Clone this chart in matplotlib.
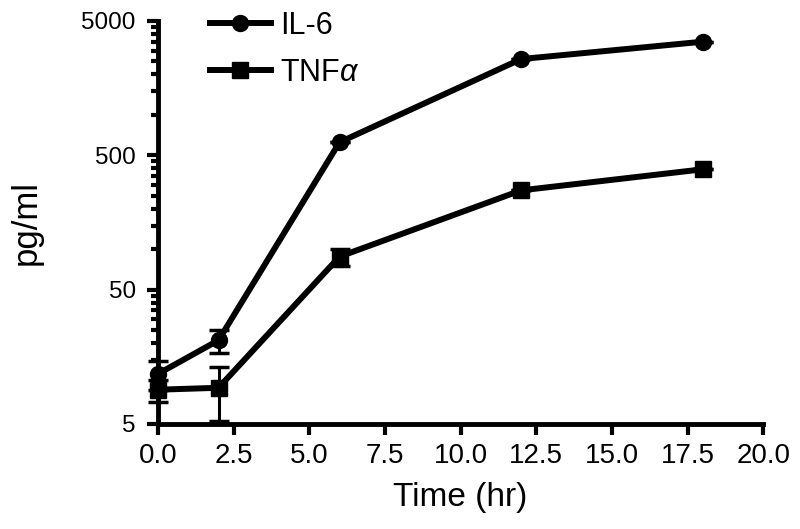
import matplotlib
matplotlib.use("Agg")
import matplotlib.pyplot as plt
from matplotlib.lines import Line2D
from matplotlib.ticker import FixedLocator, NullFormatter

plt.rcParams['font.family'] = ['Liberation Sans', 'DejaVu Sans']
plt.rcParams['mathtext.fontset'] = 'custom'
plt.rcParams['mathtext.rm'] = 'Liberation Sans'
plt.rcParams['mathtext.it'] = 'Liberation Sans:italic'

# data
time_hr = [0, 2, 6, 12, 18]
il6 = [11.8, 21.0, 625, 2600, 3500]
il6_err = [2.8, 4.0, 0, 0, 0]
tnf = [9.0, 9.3, 88, 274, 393]
tnf_err = [1.7, 4.0, 13, 0, 0]

x_ticks = [0.0, 2.5, 5.0, 7.5, 10.0, 12.5, 15.0, 17.5, 20.0]
y_ticks = [5, 50, 500, 5000]

fig = plt.figure(figsize=(8, 5.29), dpi=100)
ax = fig.add_axes([0.1975, 0.1985, 0.7565, 0.762])

ax.errorbar(time_hr, il6, yerr=il6_err, color="black", lw=4.3, marker="o",
            markersize=11.5, elinewidth=2.2, capsize=7, capthick=2.5,
            clip_on=False, zorder=3)
ax.errorbar(time_hr, tnf, yerr=tnf_err, color="black", lw=4.3, marker="s",
            markersize=11, elinewidth=2.2, capsize=7, capthick=2.5,
            clip_on=False, zorder=3)

ax.set_yscale("log")
ax.set_ylim(5, 5000)
ax.set_xlim(0, 20)
ax.set_xticks(x_ticks)
ax.set_xticklabels(["%.1f" % t for t in x_ticks], fontsize=20)
ax.yaxis.set_major_locator(FixedLocator(y_ticks))
ax.set_yticklabels([str(t) for t in y_ticks], fontsize=17.5)
minor = [b * k for b in [5, 50, 500] for k in range(2, 10)]
ax.yaxis.set_minor_locator(FixedLocator(minor))
ax.yaxis.set_minor_formatter(NullFormatter())

for s in ["top", "right"]:
    ax.spines[s].set_visible(False)
for s in ["left", "bottom"]:
    ax.spines[s].set_linewidth(3.5)
ax.tick_params(axis="both", which="major", length=8, width=3, direction="out")
ax.tick_params(axis="y", which="minor", length=5, width=3, direction="out")
ax.tick_params(axis="x", pad=6)
ax.tick_params(axis="y", pad=8)

ax.set_xlabel("Time (hr)", fontsize=24, labelpad=9)
ax.set_ylabel("pg/ml", fontsize=25, labelpad=28)

handles = [Line2D([], [], color="black", lw=4.3, marker="o", markersize=11.5),
           Line2D([], [], color="black", lw=4.3, marker="s", markersize=11)]
ax.legend(handles, ["IL-6", r"TNF$\alpha$"], loc="upper left",
          bbox_to_anchor=(0.065, 1.055), frameon=False, fontsize=22,
          handlelength=2.0, handletextpad=0.3, labelspacing=0.55, borderaxespad=0)

fig.savefig("out.png", dpi=100)
